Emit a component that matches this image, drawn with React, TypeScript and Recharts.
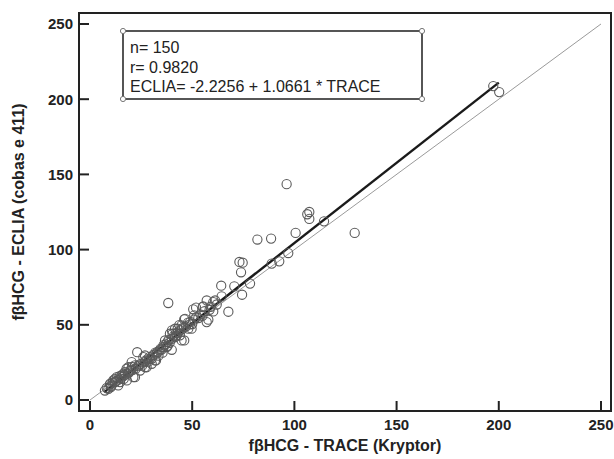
import React from 'react';
import { ScatterChart, Scatter, XAxis, YAxis, ReferenceLine, ReferenceArea, Customized } from 'recharts';

const traceValues = [
  197.3, 200.2, 96.2, 106.3, 107.3, 107.3, 114.5, 129.5, 81.9, 88.6,
  100.6, 97.0, 92.6, 88.9, 73.1, 74.7, 73.9, 74.4, 70.6, 78.3,
  64.2, 67.7, 64.4, 61.2, 57.1, 60.3, 57.1, 57.9, 55.1, 51.9,
  50.5, 38.3, 46.1, 48.9, 49.7, 43.7, 42.9, 40.1, 40.4, 46.1,
  44.8, 37.8, 40.0, 35.9, 32.6, 34.2, 23.1, 26.1, 30.2, 27.7,
  30.2, 32.3, 22.0, 19.6, 17.9, 21.2, 16.3, 13.1, 11.4, 12.2,
  14.7, 9.8, 7.3, 9.0, 24.5, 26.9, 36.7, 41.6, 44.0, 55.4,
  60.3, 51.0, 46.5, 44.8, 48.1, 41.6, 39.1, 42.4, 40.0, 37.5,
  31.8, 29.4, 26.9, 26.9, 20.4, 18.8, 22.0, 17.1, 15.5, 12.2,
  9.8, 13.8, 18.0, 8.2, 10.5, 11.0, 12.8, 14.0, 15.0, 16.0,
  17.0, 18.5, 19.0, 20.0, 21.0, 22.5, 23.5, 24.0, 25.0, 25.5,
  27.0, 28.0, 28.5, 29.0, 30.5, 31.0, 32.0, 33.0, 33.5, 34.5,
  35.0, 36.0, 37.0, 38.0, 38.5, 39.0, 41.0, 42.0, 43.0, 44.0,
  45.0, 46.0, 47.0, 48.0, 49.0, 50.0, 51.0, 52.0, 53.0, 54.0,
  55.0, 56.0, 58.5, 59.0, 62.0, 20.5, 16.5, 10.2, 14.5, 35.5,
];

const ecliaValues = [
  208.7, 204.7, 143.5, 123.5, 125.0, 120.4, 118.8, 111.1, 106.7, 107.3,
  111.1, 97.7, 92.2, 90.7, 91.8, 91.3, 84.9, 70.0, 75.6, 77.4,
  76.0, 58.7, 68.9, 66.2, 66.2, 58.9, 51.8, 53.4, 61.8, 61.4,
  60.3, 64.5, 53.6, 50.3, 47.4, 49.8, 47.4, 46.3, 44.1, 39.6,
  39.6, 38.5, 33.4, 35.2, 30.8, 33.0, 31.8, 28.5, 27.4, 21.8,
  24.1, 26.3, 23.0, 19.6, 20.8, 15.2, 17.4, 15.2, 13.0, 14.1,
  11.9, 10.3, 6.3, 7.5, 19.6, 25.2, 39.6, 41.8, 46.3, 62.2,
  65.1, 56.3, 54.0, 49.6, 47.4, 47.4, 44.1, 42.9, 40.7, 35.2,
  26.3, 27.4, 29.6, 21.8, 25.2, 21.8, 15.2, 18.5, 16.3, 11.9,
  10.8, 9.7, 13.0, 8.0, 9.5, 11.5, 12.5, 13.5, 14.2, 15.5,
  16.8, 17.5, 18.2, 19.5, 20.0, 21.0, 22.5, 23.5, 24.0, 22.8,
  26.0, 27.0, 25.5, 28.5, 29.0, 30.0, 31.5, 32.0, 29.5, 34.0,
  33.5, 36.5, 37.0, 36.0, 40.0, 38.0, 42.5, 44.5, 45.0, 43.0,
  47.0, 48.5, 49.0, 51.5, 52.0, 50.5, 53.5, 55.0, 54.5, 57.0,
  56.0, 59.0, 60.0, 62.0, 63.5, 22.0, 14.0, 8.6, 15.8, 31.5,
];

const tickValues = [0, 50, 100, 150, 200, 250];
const xDomain = [-5.38, 254.9];
const yDomain = [-7.3, 257.3];
const identityRange = [0, 250];
const fitRange = [7, 200];
const fitIntercept = -2.2256;
const fitSlope = 1.0661;
const statsLines = ['n= 150', 'r= 0.9820', 'ECLIA= -2.2256 + 1.0661 * TRACE'];
const xTitle = 'fβHCG - TRACE (Kryptor)';
const yTitle = 'fβHCG - ECLIA (cobas e 411)';

const FONT = '"Liberation Sans", Arial, sans-serif';

const points = traceValues.map((x, i) => ({ x, y: ecliaValues[i] }));

const OpenCircle = (props: any) => (
  <circle cx={props.cx} cy={props.cy} r={4.6} fill="none" stroke="#5a5a5a" strokeWidth={1.1} />
);

const Decorations = () => {
  const bx = 123, by = 31, bw = 299, bh = 68;
  const corners = [
    [bx, by], [bx + bw, by], [bx, by + bh], [bx + bw, by + bh],
  ];
  return (
    <g>
      <rect x={bx} y={by} width={bw} height={bh} fill="#fff" stroke="#444" strokeWidth={1.8} />
      {corners.map(([cx, cy], i) => (
        <circle key={i} cx={cx} cy={cy} r={2.6} fill="#fff" stroke="#777" strokeWidth={1} />
      ))}
      {statsLines.map((t, i) => (
        <text key={t} x={130} y={53 + i * 19.5} fontSize={16} fontFamily={FONT} fill="#222">
          {t}
        </text>
      ))}
      <text x={345} y={451} textAnchor="middle" fontSize={16} fontWeight="bold" fontFamily={FONT} fill="#222">
        {xTitle}
      </text>
      <text
        x={0}
        y={0}
        transform="translate(24, 212) rotate(-90)"
        textAnchor="middle"
        fontSize={16}
        fontWeight="bold"
        fontFamily={FONT}
        fill="#222"
      >
        {yTitle}
      </text>
    </g>
  );
};

export default function App() {
  const tickStyle = { fill: '#222', fontSize: 15, fontWeight: 'bold', fontFamily: FONT };
  return (
    <div style={{ position: 'absolute', left: 0, top: 0, background: '#fff' }}>
      <ScatterChart width={614} height={459} margin={{ top: 13, right: 3, bottom: 0, left: 0 }}>
        <XAxis
          type="number"
          dataKey="x"
          domain={xDomain}
          ticks={tickValues}
          allowDataOverflow
          height={48}
          tickSize={-10}
          tickMargin={18}
          tick={tickStyle}
          axisLine={{ stroke: '#222', strokeWidth: 2 }}
          tickLine={{ stroke: '#222', strokeWidth: 2 }}
        />
        <YAxis
          type="number"
          dataKey="y"
          domain={yDomain}
          ticks={tickValues}
          allowDataOverflow
          width={79}
          tickSize={-10}
          tickMargin={16}
          tick={tickStyle}
          axisLine={{ stroke: '#222', strokeWidth: 2 }}
          tickLine={{ stroke: '#222', strokeWidth: 2 }}
        />
        <ReferenceArea
          x1={xDomain[0]}
          x2={xDomain[1]}
          y1={yDomain[0]}
          y2={yDomain[1]}
          fill="none"
          fillOpacity={0}
          stroke="#222"
          strokeWidth={2}
          ifOverflow="visible"
        />
        <Scatter data={points} shape={OpenCircle} isAnimationActive={false} />
        <ReferenceLine
          segment={[
            { x: identityRange[0], y: identityRange[0] },
            { x: identityRange[1], y: identityRange[1] },
          ]}
          stroke="#9a9a9a"
          strokeWidth={1}
          ifOverflow="visible"
        />
        <ReferenceLine
          segment={[
            { x: fitRange[0], y: fitIntercept + fitSlope * fitRange[0] },
            { x: fitRange[1], y: fitIntercept + fitSlope * fitRange[1] },
          ]}
          stroke="#1a1a1a"
          strokeWidth={2.4}
          ifOverflow="visible"
        />
        <Customized component={Decorations} />
      </ScatterChart>
    </div>
  );
}
